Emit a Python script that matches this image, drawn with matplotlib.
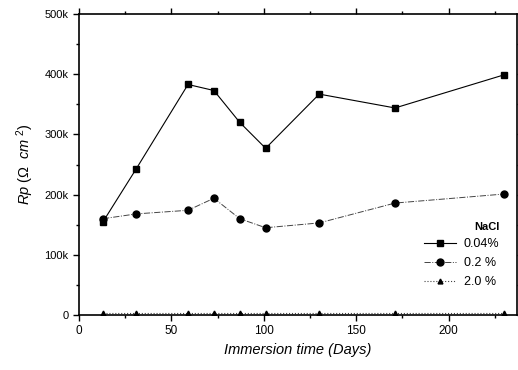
import matplotlib
matplotlib.use("Agg")
import matplotlib.pyplot as plt
from matplotlib.ticker import MultipleLocator, FuncFormatter

plt.rcParams["font.family"] = ["Liberation Sans", "DejaVu Sans"]
plt.rcParams["mathtext.fontset"] = "custom"
plt.rcParams["mathtext.rm"] = "Liberation Sans"
plt.rcParams["mathtext.it"] = "Liberation Sans:italic"

# data
days = [13, 31, 59, 73, 87, 101, 130, 171, 230]
rp_004 = [155e3, 243e3, 383e3, 373e3, 320e3, 277e3, 367e3, 344e3, 399e3]
rp_02 = [160e3, 168e3, 174e3, 194e3, 160e3, 145e3, 153e3, 186e3, 201e3]
rp_20 = [3e3, 3e3, 3e3, 3e3, 3e3, 3e3, 3e3, 3e3, 3e3]
labels = ["0.04%", "0.2 %", "2.0 %"]

fig = plt.figure(figsize=(5.18, 3.70), dpi=100)
ax = fig.add_axes([0.1525, 0.1486, 0.8455, 0.8134])

ax.plot(days, rp_004, "-", color="black", lw=0.8, marker="s", ms=5,
        label=labels[0])
ax.plot(days, rp_02, "-.", color="#444444", lw=0.7, marker="o", ms=5,
        mfc="black", mec="black", label=labels[1])
ax.plot(days, rp_20, ":", color="#444444", lw=0.8, marker="^", ms=3.5,
        mfc="black", mec="black", label=labels[2])

ax.set_xlim(0, 237)
ax.set_ylim(0, 500e3)
ax.xaxis.set_major_locator(MultipleLocator(50))
ax.xaxis.set_minor_locator(MultipleLocator(25))
ax.yaxis.set_major_locator(MultipleLocator(100e3))
ax.yaxis.set_minor_locator(MultipleLocator(50e3))
ax.yaxis.set_major_formatter(
    FuncFormatter(lambda v, p: "0" if v == 0 else "%dk" % (v / 1000)))

ax.tick_params(which="both", direction="out", top=True, right=True,
               width=1.0, labelsize=8.5)
ax.tick_params(which="major", length=4)
ax.tick_params(which="minor", length=2.5)
ax.tick_params(axis="y", labelsize=8)
for s in ax.spines.values():
    s.set_linewidth(1.2)

ax.set_xlabel("Immersion time (Days)", style="italic", fontsize=10.5)
ax.set_ylabel(r"$Rp\ (\Omega\ \ cm^{\ 2})$", fontsize=10.5, labelpad=6)

leg = ax.legend(loc="lower right", bbox_to_anchor=(0.98, 0.06),
                frameon=False, title="NaCl", fontsize=9, handlelength=2.6,
                labelspacing=0.55, borderpad=0.2, handletextpad=0.6)
leg.get_title().set_fontweight("bold")
leg.get_title().set_fontsize(8)
leg._legend_box.align = "right"

fig.savefig("out.png", dpi=100)
